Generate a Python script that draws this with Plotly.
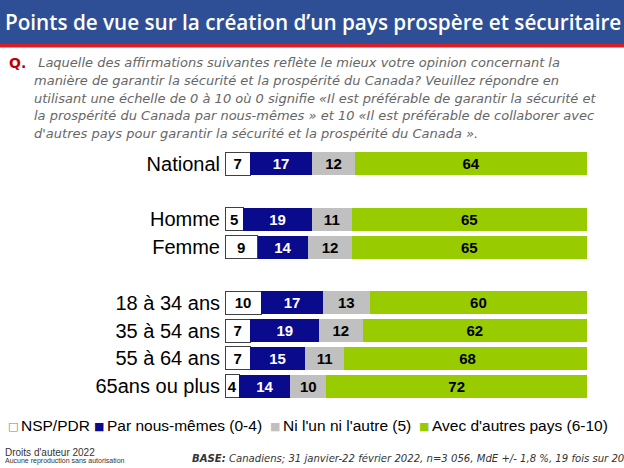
import plotly.graph_objects as go

# ---- data ----
groups = ["National", "Homme", "Femme", "18 à 34 ans", "35 à 54 ans", "55 à 64 ans", "65ans ou plus"]
nsp = [7, 5, 9, 10, 7, 7, 4]
nous = [17, 19, 14, 17, 19, 15, 14]
ni = [12, 11, 12, 13, 12, 11, 10]
avec = [64, 65, 65, 60, 62, 68, 72]
series_names = ["NSP/PDR", "Par nous-mêmes (0-4)", "Ni l'un ni l'autre (5)", "Avec d'autres pays (6-10)"]
# category order with blank spacer rows
category_order = ["National", " ", "Homme", "Femme", "  ", "18 à 34 ans", "35 à 54 ans", "55 à 64 ans", "65ans ou plus"]

colors = ["#FFFFFF", "#0A0A8C", "#C0C0C0", "#99CC00"]
text_colors = ["#000000", "#FFFFFF", "#000000", "#000000"]

W, H = 624, 468
L, R, T, B = 225, 37, 150, 68
PW, PH = W - L - R, H - T - B


def px(x):
    return (x - L) / PW


def py(y):
    return (H - B - y) / PH


fig = go.Figure()
for vals, name, col, tcol in zip([nsp, nous, ni, avec], series_names, colors, text_colors):
    fig.add_trace(go.Bar(
        y=groups, x=vals, name=name, orientation="h",
        marker=dict(color=col, line=dict(color="#404040" if col == "#FFFFFF" else col,
                                         width=1 if col == "#FFFFFF" else 0)),
        text=vals, texttemplate="%{text}", textposition="inside",
        insidetextanchor="middle", constraintext="none",
        textfont=dict(family="Liberation Sans, Arial", size=15, color=tcol, weight="bold"),
        showlegend=False, hoverinfo="skip",
    ))

fig.update_layout(
    width=W, height=H, barmode="stack", bargap=0.17,
    margin=dict(l=L, r=R, t=T, b=B, pad=0),
    paper_bgcolor="white", plot_bgcolor="white",
    xaxis=dict(range=[0, 100], visible=False, fixedrange=True),
    yaxis=dict(type="category", categoryorder="array", categoryarray=category_order,
               range=[8.5, -0.5], showgrid=False, zeroline=False, showline=False,
               ticks="", ticklabelstandoff=4,
               tickfont=dict(family="Liberation Sans, Arial", size=20, color="#000000")),
    font=dict(family="Liberation Sans, Arial"),
)

shapes = [
    dict(type="rect", xref="paper", yref="paper", x0=px(0), x1=px(W), y0=py(44), y1=py(0),
         fillcolor="#2E4F96", line=dict(width=0), layer="below"),
    dict(type="rect", xref="paper", yref="paper", x0=px(0), x1=px(W), y0=py(47.5), y1=py(44),
         fillcolor="#D91E27", line=dict(width=0), layer="below"),
]
fig.update_layout(shapes=shapes)

ann = []
ann.append(dict(text="Points de vue sur la création d’un pays prospère et sécuritaire",
                x=px(3), y=py(22), xanchor="left", yanchor="middle",
                font=dict(family="Open Sans", size=20.7, color="white", weight=600)))
ann.append(dict(text="<b>Q.</b>", x=px(7), y=py(63), xanchor="left", yanchor="middle",
                font=dict(family="DejaVu Sans", size=14, color="#C00000")))
q_lines = [
    " Laquelle des affirmations suivantes reflète le mieux votre opinion concernant la",
    "manière de garantir la sécurité et la prospérité du Canada? Veuillez répondre en",
    "utilisant une échelle de 0 à 10 où 0 signifie «Il est préférable de garantir la sécurité et",
    "la prospérité du Canada par nous-mêmes » et 10 «Il est préférable de collaborer avec",
    "d'autres pays pour garantir la sécurité et la prospérité du Canada ».",
]
for i, line in enumerate(q_lines):
    ann.append(dict(text="<i>" + line + "</i>", x=px(32), y=py(63 + i * 17.6),
                    xanchor="left", yanchor="middle",
                    font=dict(family="DejaVu Sans", size=13, color="#666666")))

# legend drawn as text: symbol position, text position
sym_x = [6, 92, 268, 417]
txt_x = [19, 105, 281, 430]
sym = ["□", "■", "■", "■"]
sym_col = ["#808080", "#0A0A8C", "#C0C0C0", "#99CC00"]
for sx, tx, s, sc, name in zip(sym_x, txt_x, sym, sym_col, series_names):
    ann.append(dict(text=s, x=px(sx), y=py(426), xanchor="left", yanchor="middle",
                    font=dict(family="DejaVu Sans", size=11, color=sc)))
    ann.append(dict(text=name, x=px(tx), y=py(425), xanchor="left", yanchor="middle",
                    font=dict(family="Liberation Sans, Arial", size=15.5, color="#000000")))

ann.append(dict(text="Droits d'auteur 2022", x=px(3), y=py(452), xanchor="left", yanchor="middle",
                font=dict(family="Liberation Sans, Arial", size=10, color="#333333")))
ann.append(dict(text="Aucune reproduction sans autorisation", x=px(3), y=py(461), xanchor="left",
                yanchor="middle", font=dict(family="Liberation Sans, Arial", size=7, color="#333333")))
ann.append(dict(text="<b><i>BASE:</i></b><i> Canadiens; 31 janvier-22 février 2022, n=3 056, MdE +/- 1,8 %, 19 fois sur 20</i>",
                x=px(626), y=py(458), xanchor="right", yanchor="middle",
                font=dict(family="DejaVu Sans", size=10.1, color="#333333")))

for a in ann:
    a.update(xref="paper", yref="paper", showarrow=False)
fig.update_layout(annotations=ann)

fig.write_html("out.html")
